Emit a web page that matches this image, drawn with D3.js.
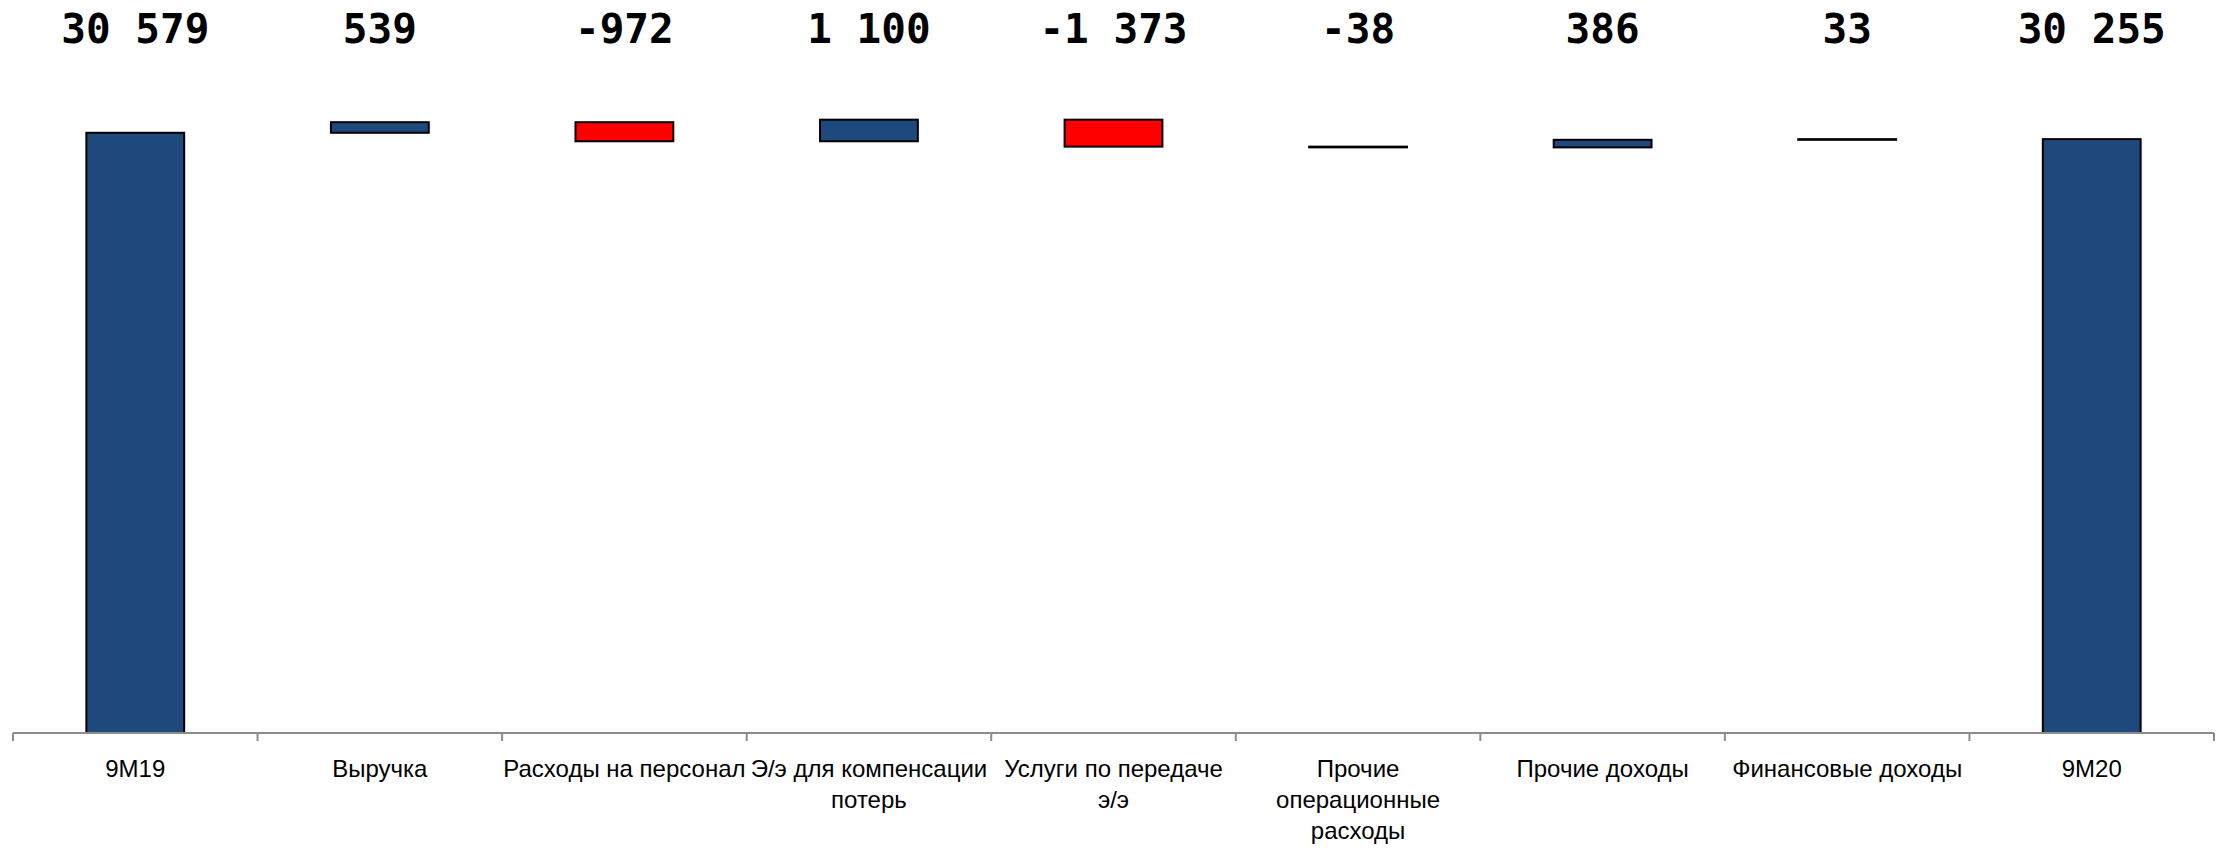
<!DOCTYPE html>
<html>
<head>
<meta charset="utf-8">
<script src="https://cdn.jsdelivr.net/npm/d3@7"></script>
<style>
  html, body { margin: 0; padding: 0; background: #fff; }
  .valueLabel { font-family: "DejaVu Sans Mono", monospace; font-weight: bold; font-size: 41px; }
  .catLabel { font-family: "Liberation Sans", Arial, sans-serif; font-size: 24px; fill: #000; }
</style>
</head>
<body>
<svg id="chart"></svg>
<script>
(function (d3) {
  "use strict";

  /***** Data *****/
  var categories = ["9M19", "Выручка", "Расходы на персонал", "Э/э для компенсации потерь",
    "Услуги по передаче э/э", "Прочие операционные расходы", "Прочие доходы",
    "Финансовые доходы", "9M20"];
  // line breaks of the axis labels as in the picture
  var categoryLines = [["9M19"], ["Выручка"], ["Расходы на персонал"],
    ["Э/э для компенсации", "потерь"], ["Услуги по передаче", "э/э"],
    ["Прочие", "операционные", "расходы"], ["Прочие доходы"], ["Финансовые доходы"], ["9M20"]];
  var values = [30579, 539, -972, 1100, -1373, -38, 386, 33, 30255];
  var isTotal = [true, false, false, false, false, false, false, false, true];
  var valueLabels = ["30 579", "539", "-972", "1 100", "-1 373", "-38", "386", "33", "30 255"];

  /***** Configuration *****/
  var width = 2225, height = 848;
  var axisY = 733;
  var blue = "#1F497D", red = "#FF0000";

  var svg = d3.select("#chart").attr("width", width).attr("height", height);

  /***** Scales *****/
  var x = d3.scaleBand().domain(categories).range([13, 2214]).padding(0);
  var y = d3.scaleLinear().domain([0, 35000]).range([axisY, 46]);
  var barW = x.bandwidth() * 0.4;

  // running totals for the waterfall
  var running = 0;
  var bars = values.map(function (v, i) {
    var start, end;
    if (isTotal[i]) { start = 0; end = v; running = v; }
    else { start = running; end = running + v; running = end; }
    return { cat: categories[i], value: v, start: start, end: end, total: isTotal[i], label: valueLabels[i], lines: categoryLines[i] };
  });

  /***** Bars *****/
  svg.append("g").selectAll("rect")
    .data(bars)
    .enter().append("rect")
    .attr("x", function (d) { return x(d.cat) + (x.bandwidth() - barW) / 2; })
    .attr("y", function (d) { return y(Math.max(d.start, d.end)); })
    .attr("width", barW)
    .attr("height", function (d) { return Math.abs(y(d.start) - y(d.end)); })
    .attr("fill", function (d) { return (d.total || d.value >= 0) ? blue : red; })
    .attr("stroke", "#000")
    .attr("stroke-width", 2);

  /***** Axis *****/
  var axisG = svg.append("g");
  axisG.append("line")
    .attr("x1", x.range()[0]).attr("x2", x.range()[1])
    .attr("y1", axisY).attr("y2", axisY)
    .attr("stroke", "#8c8c8c").attr("stroke-width", 2);
  var tickPos = categories.map(function (c) { return x(c); }).concat([x.range()[1]]);
  axisG.selectAll(".tick")
    .data(tickPos)
    .enter().append("line")
    .attr("x1", function (d) { return d; }).attr("x2", function (d) { return d; })
    .attr("y1", axisY).attr("y2", axisY + 8)
    .attr("stroke", "#8c8c8c").attr("stroke-width", 2);

  var catText = svg.append("g").selectAll("text")
    .data(bars)
    .enter().append("text")
    .attr("class", "catLabel")
    .attr("text-anchor", "middle")
    .attr("x", function (d) { return x(d.cat) + x.bandwidth() / 2; })
    .attr("y", 777);
  catText.selectAll("tspan")
    .data(function (d) { return d.lines.map(function (l) { return { l: l, x: x(d.cat) + x.bandwidth() / 2 }; }); })
    .enter().append("tspan")
    .attr("x", function (t) { return t.x; })
    .attr("dy", function (t, i) { return i === 0 ? 0 : 31; })
    .text(function (t) { return t.l; });

  /***** Value labels *****/
  svg.append("g").selectAll("text")
    .data(bars)
    .enter().append("text")
    .attr("class", "valueLabel")
    .attr("text-anchor", "middle")
    .attr("x", function (d) { return x(d.cat) + x.bandwidth() / 2; })
    .attr("y", 43)
    .text(function (d) { return d.label; });

})(d3);
</script>
</body>
</html>
